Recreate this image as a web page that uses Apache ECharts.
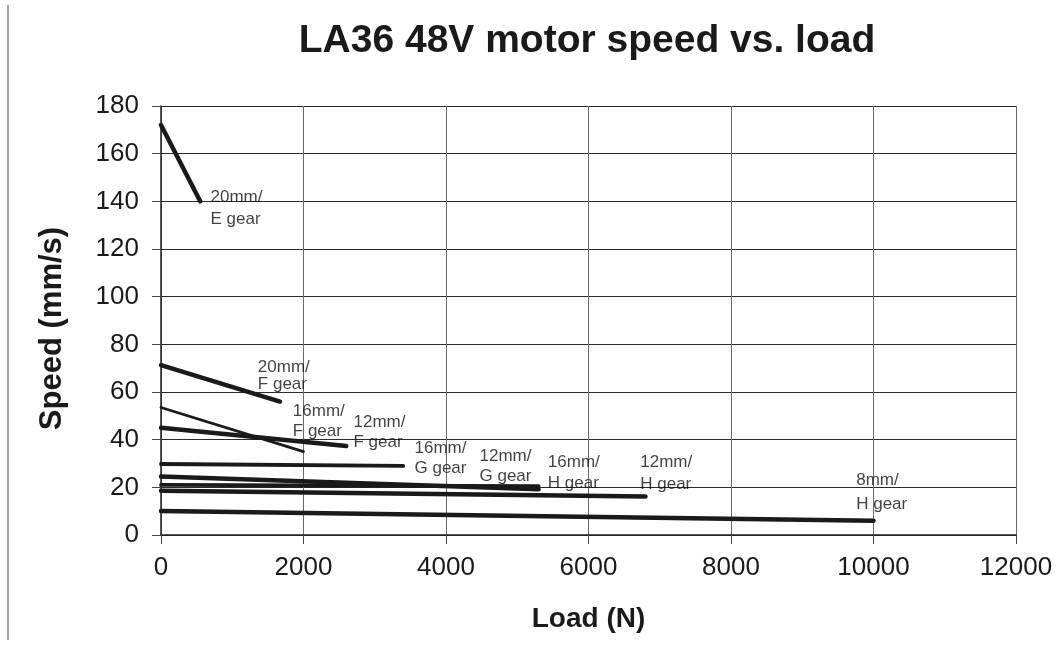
<!DOCTYPE html>
<html>
<head>
<meta charset="utf-8">
<script src="https://cdn.jsdelivr.net/npm/echarts@6/dist/echarts.min.js"></script>
<style>
  html, body { margin: 0; padding: 0; background: #fff; }
  #chart { width: 1059px; height: 646px; }
</style>
</head>
<body>
<div id="chart"></div>
<script>
// ---- data ----
const seriesNames = ['20mm/E gear', '20mm/F gear', '16mm/F gear', '12mm/F gear', '16mm/G gear', '12mm/G gear', '16mm/H gear', '12mm/H gear', '8mm/H gear'];
// each curve: [load at no-load, speed], [max load, speed]
const loadStart = [0, 0, 0, 0, 0, 0, 0, 0, 0];
const loadEnd = [550, 1670, 2000, 2600, 3400, 5300, 5300, 6800, 10000];
const speedStart = [172, 71.3, 53.5, 45, 29.8, 24.5, 21, 18.6, 10.1];
const speedEnd = [140, 56, 35, 37.3, 29, 19.2, 20.5, 16.2, 6];

// labels (text + anchor in data units)
const labelTexts = ['20mm/\nE gear', '20mm/\nF gear', '16mm/\nF gear', '12mm/\nF gear', '16mm/\nG gear', '12mm/\nG gear', '16mm/\nH gear', '12mm/\nH gear', '8mm/\nH gear'];
const labelLoad = [702, 1366, 1857, 2709, 3565, 4477, 5436, 6733, 9764];
const labelSpeed = [146.1, 73.8, 55.8, 51.3, 40.6, 37.1, 34.5, 34.9, 27.7];

const xTicks = { min: 0, max: 12000, interval: 2000 };
const yTicks = { min: 0, max: 180, interval: 20 };

// ---- styles ----
const lineWidths = [4.5, 4.5, 2.8, 4.5, 3.8, 4.5, 3.8, 4.5, 4.5];
const labelLineHeights = [22, 17, 20, 20, 20.7, 20.3, 21, 21.7, 24];
const FONT = "'Liberation Sans', Arial, Helvetica, sans-serif";

const chart = echarts.init(document.getElementById('chart'), null, { renderer: 'canvas' });

const lineSeries = seriesNames.map((n, i) => ({
  name: n,
  type: 'line',
  data: [[loadStart[i], speedStart[i]], [loadEnd[i], speedEnd[i]]],
  showSymbol: false,
  symbol: 'none',
  lineStyle: { color: '#1a1a1a', width: lineWidths[i], cap: 'round' },
  z: 3,
  animation: false
}));

const labelSeries = {
  type: 'scatter',
  symbolSize: 1,
  itemStyle: { color: 'transparent' },
  silent: true,
  animation: false,
  z: 4,
  data: labelTexts.map((t, i) => ({
    value: [labelLoad[i], labelSpeed[i]],
    name: t,
    label: {
      show: true,
      position: [0, 0],
      align: 'left',
      verticalAlign: 'top',
      formatter: t,
      fontFamily: FONT,
      fontSize: 17,
      color: '#111',
      lineHeight: labelLineHeights[i]
    }
  }))
};

chart.setOption({
  animation: false,
  backgroundColor: '#fff',
  title: {
    text: 'LA36 48V motor speed vs. load',
    left: 582,
    top: 17,
    textAlign: 'center',
    textStyle: { fontFamily: FONT, fontSize: 39, fontWeight: 'bold', color: '#1a1a1a' }
  },
  grid: { left: 161, right: 43, top: 106, bottom: 111 },
  xAxis: {
    type: 'value',
    min: xTicks.min, max: xTicks.max, interval: xTicks.interval,
    name: 'Load (N)',
    nameLocation: 'middle',
    nameGap: 70,
    nameTextStyle: { fontFamily: FONT, fontSize: 28, fontWeight: 'bold', color: '#1a1a1a' },
    axisLine: { show: true, onZero: false, lineStyle: { color: '#222', width: 1.5 } },
    axisTick: { show: true, inside: false, length: 9, lineStyle: { color: '#444' } },
    axisLabel: { margin: 20, fontFamily: FONT, fontSize: 26, color: '#1a1a1a', formatter: v => String(v) },
    splitLine: { show: true, lineStyle: { color: '#6a6a6a', width: 1 } }
  },
  yAxis: {
    type: 'value',
    min: yTicks.min, max: yTicks.max, interval: yTicks.interval,
    name: 'Speed (mm/s)',
    nameLocation: 'middle',
    nameGap: 93,
    nameRotate: 90,
    nameTextStyle: { fontFamily: FONT, fontSize: 31, fontWeight: 'bold', color: '#1a1a1a', padding: [0, 16, 0, 0] },
    axisLine: { show: true, onZero: false, lineStyle: { color: '#222', width: 1.5 } },
    axisTick: { show: true, inside: false, length: 9, lineStyle: { color: '#444' } },
    axisLabel: { margin: 22, fontFamily: FONT, fontSize: 26, color: '#1a1a1a', formatter: v => String(v) },
    splitLine: { show: true, lineStyle: { color: '#2a2a2a', width: 1 } }
  },
  graphic: [{
    type: 'line',
    shape: { x1: 8, y1: 5, x2: 8, y2: 640 },
    style: { stroke: '#8a8a8a', lineWidth: 1.5 },
    silent: true
  }],
  series: [...lineSeries, labelSeries]
});
</script>
</body>
</html>
